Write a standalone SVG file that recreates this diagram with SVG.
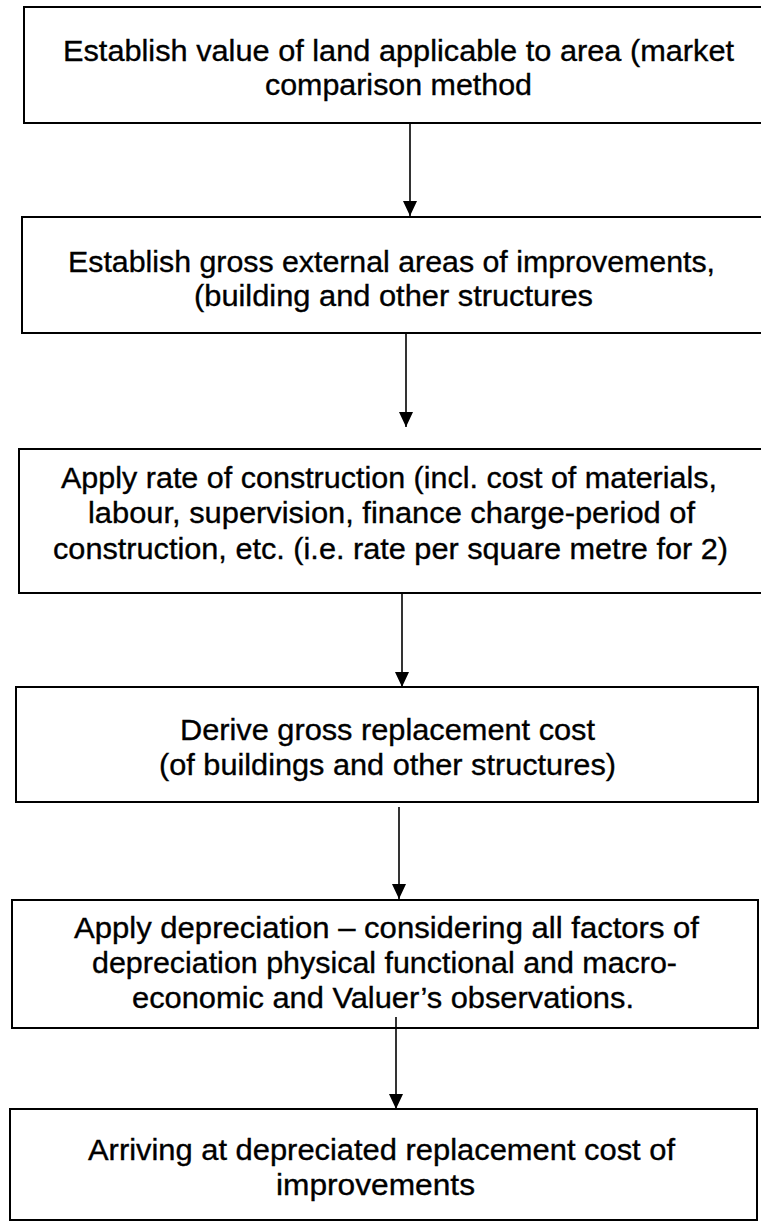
<svg xmlns="http://www.w3.org/2000/svg" width="761" height="1223" viewBox="0 0 761 1223">
<style>
.box{fill:#fff;stroke:#000;stroke-width:2}
.t{font-family:"Liberation Sans",Arial,sans-serif;font-size:30px;fill:#000;stroke:#000;stroke-width:0.35;text-anchor:middle}
.conn{stroke:#000;stroke-width:1.6;fill:none}
</style>
<defs>
<marker id="arr" markerUnits="userSpaceOnUse" markerWidth="16" markerHeight="16" refX="15" refY="7" orient="auto">
<path d="M0,0 L15,7 L0,14 z" fill="#000"/>
</marker>
</defs>
<rect width="761" height="1223" fill="#fff"/>
<g id="n1">
<rect class="box" x="24" y="7" width="750" height="116"/>
<text class="t" x="398.5" y="61" textLength="671" lengthAdjust="spacingAndGlyphs">Establish value of land applicable to area (market</text>
<text class="t" x="398.5" y="95" textLength="267" lengthAdjust="spacingAndGlyphs">comparison method</text>
</g>
<g id="n2">
<rect class="box" x="22" y="217" width="752" height="116"/>
<text class="t" x="391.5" y="272" textLength="647" lengthAdjust="spacingAndGlyphs">Establish gross external areas of improvements,</text>
<text class="t" x="393.5" y="306" textLength="399" lengthAdjust="spacingAndGlyphs">(building and other structures</text>
</g>
<g id="n3">
<rect class="box" x="19" y="449" width="755" height="144"/>
<text class="t" x="389" y="488" textLength="656" lengthAdjust="spacingAndGlyphs">Apply rate of construction (incl. cost of materials,</text>
<text class="t" x="391.5" y="523" textLength="607" lengthAdjust="spacingAndGlyphs">labour, supervision, finance charge-period of</text>
<text class="t" x="390.5" y="559" textLength="675" lengthAdjust="spacingAndGlyphs">construction, etc. (i.e. rate per square metre for 2)</text>
</g>
<g id="n4">
<rect class="box" x="16" y="687" width="742" height="115"/>
<text class="t" x="387.5" y="740" textLength="415" lengthAdjust="spacingAndGlyphs">Derive gross replacement cost</text>
<text class="t" x="387.5" y="775" textLength="457" lengthAdjust="spacingAndGlyphs">(of buildings and other structures)</text>
</g>
<g id="n5">
<rect class="box" x="12" y="900" width="746" height="128"/>
<text class="t" x="386.5" y="938" textLength="625" lengthAdjust="spacingAndGlyphs">Apply depreciation – considering all factors of</text>
<text class="t" x="384.5" y="973" textLength="585" lengthAdjust="spacingAndGlyphs">depreciation physical functional and macro-</text>
<text class="t" x="383" y="1008" textLength="502" lengthAdjust="spacingAndGlyphs">economic and Valuer’s observations.</text>
</g>
<g id="n6">
<rect class="box" x="10" y="1109" width="747" height="111"/>
<text class="t" x="381.5" y="1160" textLength="587" lengthAdjust="spacingAndGlyphs">Arriving at depreciated replacement cost of</text>
<text class="t" x="375.5" y="1195" textLength="199" lengthAdjust="spacingAndGlyphs">improvements</text>
</g>
<g id="connectors">
<line class="conn" x1="410" y1="123" x2="410" y2="216" marker-end="url(#arr)"/>
<line class="conn" x1="406" y1="333" x2="406" y2="427" marker-end="url(#arr)"/>
<line class="conn" x1="402" y1="593" x2="402" y2="687" marker-end="url(#arr)"/>
<line class="conn" x1="399" y1="807" x2="399" y2="899" marker-end="url(#arr)"/>
<line class="conn" x1="396" y1="1017" x2="396" y2="1109" marker-end="url(#arr)"/>
</g>
</svg>
